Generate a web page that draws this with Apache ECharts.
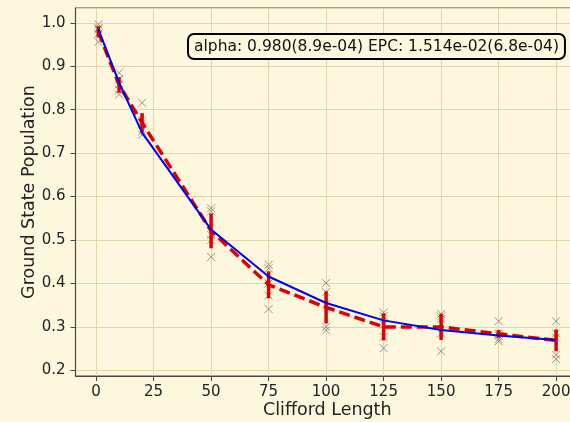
<!DOCTYPE html>
<html><head><meta charset="utf-8">
<script src="https://cdn.jsdelivr.net/npm/echarts@6/dist/echarts.min.js"></script>
<style>html,body{margin:0;padding:0;background:#fdf8dd;}#c{width:570px;height:422px;}</style>
</head><body><div id="c"></div>
<script>
const lengths = [1, 10, 20, 50, 75, 100, 125, 150, 175, 200];
const seed1 = [0.996, 0.885, 0.816, 0.573, 0.443, 0.401, 0.333, 0.330, 0.313, 0.313];
const seed2 = [0.988, 0.870, 0.775, 0.566, 0.435, 0.380, 0.325, 0.324, 0.285, 0.285];
const seed3 = [0.985, 0.858, 0.769, 0.512, 0.400, 0.352, 0.305, 0.318, 0.280, 0.275];
const seed4 = [0.975, 0.845, 0.750, 0.500, 0.372, 0.300, 0.277, 0.285, 0.272, 0.236];
const seed5 = [0.956, 0.835, 0.742, 0.461, 0.341, 0.292, 0.251, 0.244, 0.267, 0.226];
const meanVals = [0.979, 0.857, 0.770, 0.521, 0.397, 0.345, 0.300, 0.300, 0.284, 0.269];
const stdVals  = [0.013, 0.018, 0.022, 0.040, 0.031, 0.037, 0.031, 0.030, 0.009, 0.025];
const fitVals  = [0.985, 0.862, 0.747, 0.524, 0.416, 0.355, 0.315, 0.293, 0.280, 0.270];
const fitText = 'alpha: 0.980(8.9e-04) EPC: 1.514e-02(6.8e-04)';

const seeds = [seed1, seed2, seed3, seed4, seed5];
const chart = echarts.init(document.getElementById('c'));
const font = 'DejaVu Sans';
const scatterSeries = seeds.map(s => ({
  type: 'scatter',
  data: lengths.map((x, i) => [x, s[i]]),
  symbol: 'path://M0,0L10,10M10,0L0,10',
  symbolSize: 8,
  itemStyle: {color: 'rgba(0,0,0,0)', borderColor: '#7f7a70', borderWidth: 1},
  z: 2,
  silent: true
}));
chart.setOption({
  backgroundColor: '#fdf8dd',
  animation: false,
  grid: {left: 75.5, right: -9, top: 8, bottom: 46, containLabel: false, outerBoundsMode: 'none',
    show: true, backgroundColor: '#fdf8dd', borderColor: '#4a463c', borderWidth: 1},
  xAxis: {
    type: 'value', min: -8.95, max: 209.95, minInterval: 25, maxInterval: 25, splitNumber: 8,
    name: 'Clifford Length', nameLocation: 'middle', nameGap: 25, nameMoveOverlap: false,
    nameTextStyle: {fontFamily: font, fontSize: 17.5, color: '#222'},
    axisLine: {show: true, onZero: false, lineStyle: {color: '#4a463c', width: 1.2}},
    axisTick: {show: true, inside: false, length: 5, lineStyle: {color: '#4a463c'}},
    axisLabel: {fontFamily: font, fontSize: 15, color: '#222', margin: 9, showMinLabel: false, showMaxLabel: false},
    splitLine: {show: true, lineStyle: {color: '#e3d4b0', width: 1}}
  },
  yAxis: {
    type: 'value', min: 0.187, max: 1.034, minInterval: 0.1, maxInterval: 0.1, splitNumber: 8,
    name: 'Ground State Population', nameLocation: 'middle', nameGap: 37, nameRotate: 90, nameMoveOverlap: false,
    nameTextStyle: {fontFamily: font, fontSize: 17.5, color: '#222'},
    axisLine: {show: true, onZero: false, lineStyle: {color: '#4a463c', width: 1.2}},
    axisTick: {show: true, inside: false, length: 5, lineStyle: {color: '#4a463c'}},
    axisLabel: {fontFamily: font, fontSize: 15, color: '#222', margin: 10, showMinLabel: false, showMaxLabel: false,
      formatter: v => v.toFixed(1)},
    splitLine: {show: true, lineStyle: {color: '#e3d4b0', width: 1}}
  },
  series: scatterSeries.concat([
    {
      type: 'custom',
      data: lengths.map((x, i) => [x, meanVals[i] - stdVals[i], meanVals[i] + stdVals[i]]),
      renderItem: function (params, api) {
        const p0 = api.coord([api.value(0), api.value(1)]);
        const p1 = api.coord([api.value(0), api.value(2)]);
        return {type: 'line', shape: {x1: p0[0], y1: p0[1], x2: p1[0], y2: p1[1]},
          style: {stroke: '#dd0000', lineWidth: 3.5}};
      },
      z: 3, silent: true
    },
    {
      type: 'line',
      data: lengths.map((x, i) => [x, meanVals[i]]),
      showSymbol: false, symbol: 'none',
      lineStyle: {color: '#dd0000', width: 3.5, type: [11, 5]},
      z: 4, silent: true
    },
    {
      type: 'line',
      data: lengths.map((x, i) => [x, fitVals[i]]),
      showSymbol: false, symbol: 'none',
      lineStyle: {color: '#0000ee', width: 2},
      z: 5, silent: true
    }
  ]),
  graphic: [{
    type: 'text', left: 187, top: 33, z: 100,
    style: {
      text: fitText, fontFamily: font, fontSize: 15.5, fill: '#111',
      backgroundColor: '#fdf8dd', borderColor: '#000', borderWidth: 2, borderRadius: 5,
      padding: [4, 5, 3, 5]
    }
  }]
});
</script></body></html>
